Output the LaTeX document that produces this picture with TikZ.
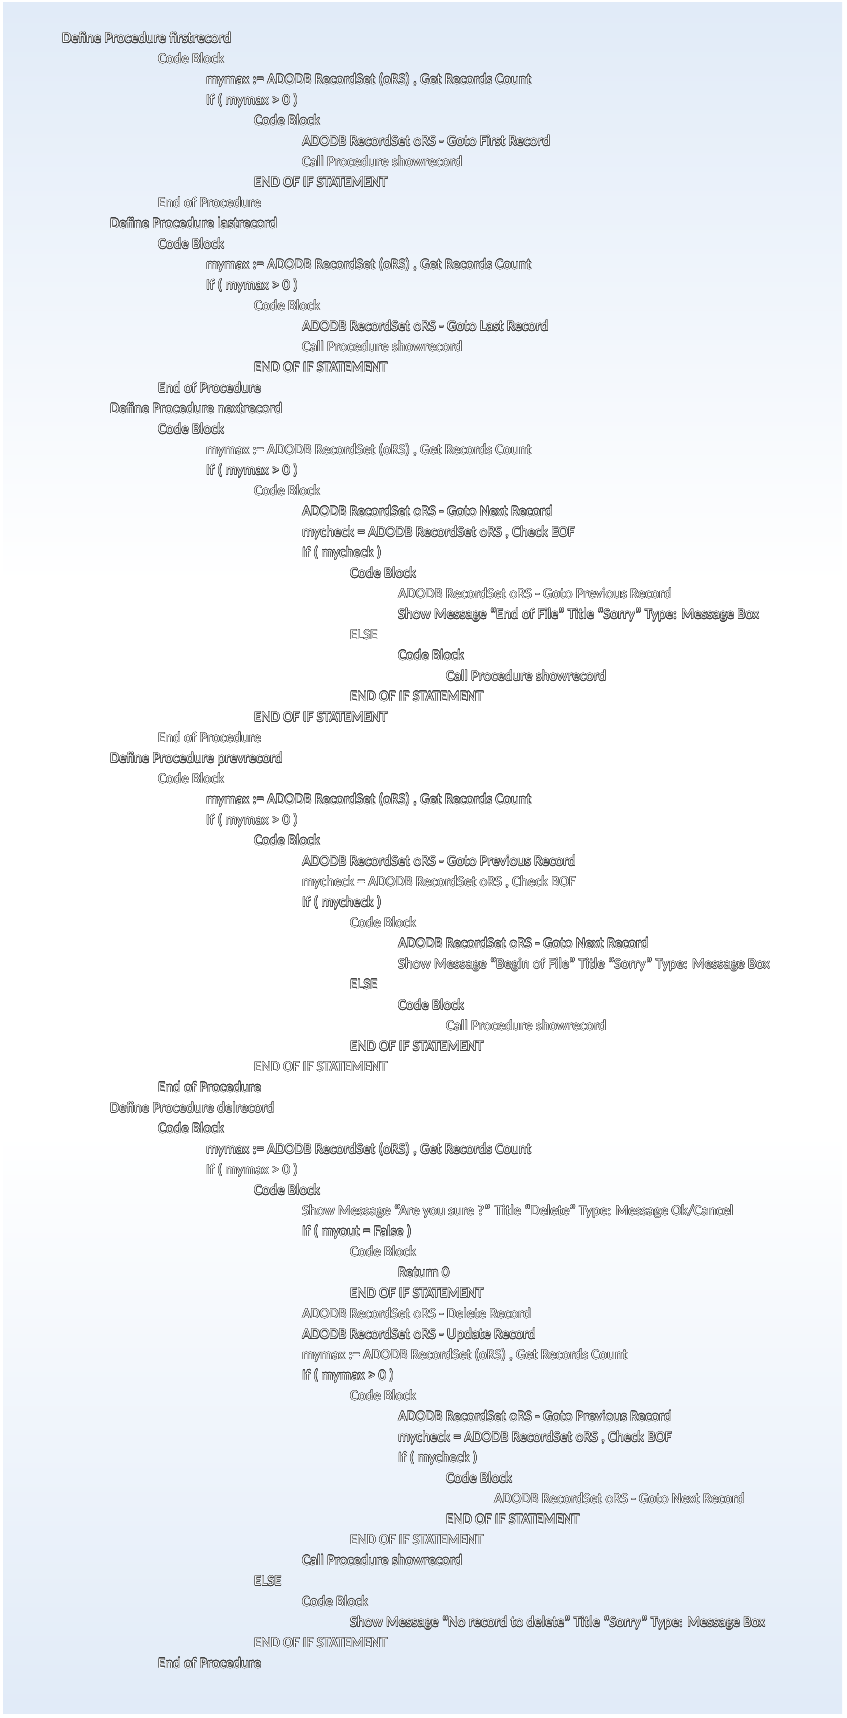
\documentclass[tikz,border=0pt]{standalone}
\usepackage{fontspec}
\setmainfont{Carlito}
\usepackage[copies]{contour}
\contourlength{0.35pt}

\definecolor{panelblue}{RGB}{198,217,241}
\definecolor{textedge}{RGB}{60,60,60}
\pgfdeclareverticalshading{panelshade}{100bp}{color(0bp)=(panelblue); color(10bp)=(panelblue);
  color(42bp)=(white); color(58bp)=(white); color(90bp)=(panelblue); color(100bp)=(panelblue)}

% one line of the listing: indent level, row, text
\newcommand{\codeline}[3]{\node[code] (r#2) at ({110+48*(#1)},{43+20.57*(#2-1)}) {\contour{textedge}{#3}};}

\begin{document}
\begin{tikzpicture}
		[x=1pt,y=-1pt,
		%Styles
		code/.style={anchor=base west,inner sep=0pt,text=white,font=\fontsize{14.7}{17}\selectfont}
		]
		\useasboundingbox (0,0) rectangle (846,1718);
		
		%The panel
		\shade[shading=panelshade] (3,3) rectangle (842,1713);
		
		%firstrecord
		\codeline{-1}{1}{Define Procedure firstrecord}
		\codeline{1}{2}{Code Block}
		\codeline{2}{3}{mymax := ADODB RecordSet (oRS) , Get Records Count}
		\codeline{2}{4}{If ( mymax > 0 )}
		\codeline{3}{5}{Code Block}
		\codeline{4}{6}{ADODB RecordSet oRS - Goto First Record}
		\codeline{4}{7}{Call Procedure showrecord}
		\codeline{3}{8}{END OF IF STATEMENT}
		\codeline{1}{9}{End of Procedure}
		
		%lastrecord
		\codeline{0}{10}{Define Procedure lastrecord}
		\codeline{1}{11}{Code Block}
		\codeline{2}{12}{mymax := ADODB RecordSet (oRS) , Get Records Count}
		\codeline{2}{13}{If ( mymax > 0 )}
		\codeline{3}{14}{Code Block}
		\codeline{4}{15}{ADODB RecordSet oRS - Goto Last Record}
		\codeline{4}{16}{Call Procedure showrecord}
		\codeline{3}{17}{END OF IF STATEMENT}
		\codeline{1}{18}{End of Procedure}
		
		%nextrecord
		\codeline{0}{19}{Define Procedure nextrecord}
		\codeline{1}{20}{Code Block}
		\codeline{2}{21}{mymax := ADODB RecordSet (oRS) , Get Records Count}
		\codeline{2}{22}{If ( mymax > 0 )}
		\codeline{3}{23}{Code Block}
		\codeline{4}{24}{ADODB RecordSet oRS - Goto Next Record}
		\codeline{4}{25}{mycheck = ADODB RecordSet oRS , Check EOF}
		\codeline{4}{26}{If ( mycheck )}
		\codeline{5}{27}{Code Block}
		\codeline{6}{28}{ADODB RecordSet oRS - Goto Previous Record}
		\codeline{6}{29}{Show Message “End of File” Title “Sorry” Type: Message Box}
		\codeline{5}{30}{ELSE}
		\codeline{6}{31}{Code Block}
		\codeline{7}{32}{Call Procedure showrecord}
		\codeline{5}{33}{END OF IF STATEMENT}
		\codeline{3}{34}{END OF IF STATEMENT}
		\codeline{1}{35}{End of Procedure}
		
		%prevrecord
		\codeline{0}{36}{Define Procedure prevrecord}
		\codeline{1}{37}{Code Block}
		\codeline{2}{38}{mymax := ADODB RecordSet (oRS) , Get Records Count}
		\codeline{2}{39}{If ( mymax > 0 )}
		\codeline{3}{40}{Code Block}
		\codeline{4}{41}{ADODB RecordSet oRS - Goto Previous Record}
		\codeline{4}{42}{mycheck = ADODB RecordSet oRS , Check BOF}
		\codeline{4}{43}{If ( mycheck )}
		\codeline{5}{44}{Code Block}
		\codeline{6}{45}{ADODB RecordSet oRS - Goto Next Record}
		\codeline{6}{46}{Show Message “Begin of File” Title “Sorry” Type: Message Box}
		\codeline{5}{47}{ELSE}
		\codeline{6}{48}{Code Block}
		\codeline{7}{49}{Call Procedure showrecord}
		\codeline{5}{50}{END OF IF STATEMENT}
		\codeline{3}{51}{END OF IF STATEMENT}
		\codeline{1}{52}{End of Procedure}
		
		%delrecord
		\codeline{0}{53}{Define Procedure delrecord}
		\codeline{1}{54}{Code Block}
		\codeline{2}{55}{mymax := ADODB RecordSet (oRS) , Get Records Count}
		\codeline{2}{56}{If ( mymax > 0 )}
		\codeline{3}{57}{Code Block}
		\codeline{4}{58}{Show Message “Are you sure ?” Title “Delete” Type: Message Ok/Cancel}
		\codeline{4}{59}{If ( myout = False )}
		\codeline{5}{60}{Code Block}
		\codeline{6}{61}{Return 0}
		\codeline{5}{62}{END OF IF STATEMENT}
		\codeline{4}{63}{ADODB RecordSet oRS - Delete Record}
		\codeline{4}{64}{ADODB RecordSet oRS - Update Record}
		\codeline{4}{65}{mymax := ADODB RecordSet (oRS) , Get Records Count}
		\codeline{4}{66}{If ( mymax > 0 )}
		\codeline{5}{67}{Code Block}
		\codeline{6}{68}{ADODB RecordSet oRS - Goto Previous Record}
		\codeline{6}{69}{mycheck = ADODB RecordSet oRS , Check BOF}
		\codeline{6}{70}{If ( mycheck )}
		\codeline{7}{71}{Code Block}
		\codeline{8}{72}{ADODB RecordSet oRS - Goto Next Record}
		\codeline{7}{73}{END OF IF STATEMENT}
		\codeline{5}{74}{END OF IF STATEMENT}
		\codeline{4}{75}{Call Procedure showrecord}
		\codeline{3}{76}{ELSE}
		\codeline{4}{77}{Code Block}
		\codeline{5}{78}{Show Message “No record to delete” Title “Sorry” Type: Message Box}
		\codeline{3}{79}{END OF IF STATEMENT}
		\codeline{1}{80}{End of Procedure}
	\end{tikzpicture}
\end{document}
